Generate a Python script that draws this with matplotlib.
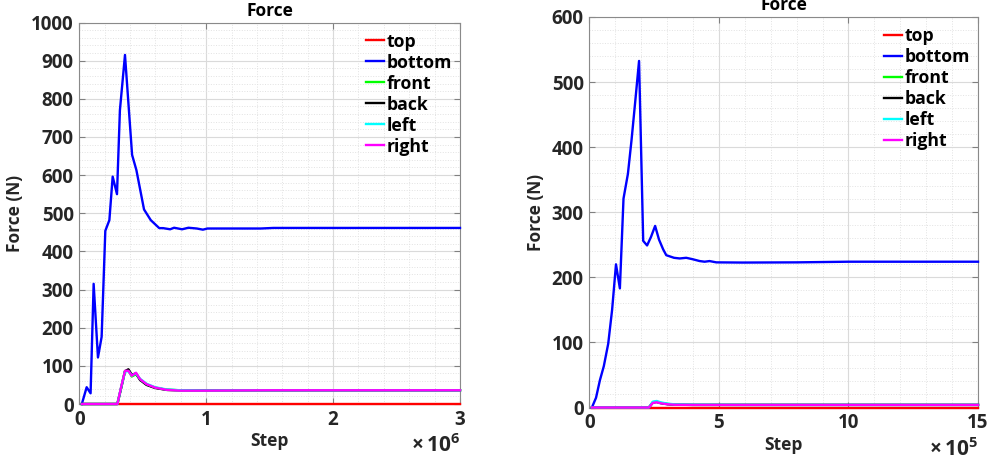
import matplotlib
matplotlib.use("Agg")
import matplotlib.pyplot as plt
from matplotlib.ticker import AutoMinorLocator, MultipleLocator, FuncFormatter

plt.rcParams['font.family'] = ['Open Sans', 'DejaVu Sans']
plt.rcParams['font.weight'] = 'bold'
plt.rcParams['mathtext.fontset'] = 'custom'
plt.rcParams['mathtext.rm'] = 'Open Sans'

# ---------------- data: run A (steps up to 3e6) ----------------
steps_a_bottom = [2.0e4, 5.8e4, 8.9e4, 1.13e5, 1.47e5, 1.76e5, 2.05e5, 2.37e5, 2.63e5,
                  2.97e5, 3.2e5, 3.6e5, 4.16e5, 4.5e5, 5.1e5, 5.63e5, 6.3e5, 6.6e5,
                  7.16e5, 7.47e5, 8.1e5, 8.6e5, 9.26e5, 9.74e5, 1.01e6, 1.16e6,
                  1.43e6, 1.53e6, 2.2e6, 3.0e6]
bottom_a = [0, 44, 28, 315, 122, 176, 454, 482, 596, 550, 770, 915, 653, 613, 510,
            482, 461, 461, 458, 462, 458, 462, 460, 457, 460, 460, 460, 461.5, 461.5, 461.5]

steps_a_side = [2.0e4, 3.0e5, 3.3e5, 3.6e5, 3.87e5, 4.13e5, 4.47e5, 4.79e5, 5.3e5,
                5.97e5, 6.9e5, 7.95e5, 1.0e6, 1.5e6, 2.0e6, 2.5e6, 3.0e6]
top_a = [0] * len(steps_a_side)
front_a = [0, 0, 43, 86, 88, 72, 78, 64, 51, 43, 37, 36, 35.5, 36, 36, 36, 36]
back_a = [0, 0, 42, 86, 91, 77, 80, 63, 50, 42, 37, 36, 35.5, 36, 36, 36, 36]
left_a = [0, 0, 44, 85, 86, 75, 80, 66, 53, 44, 38, 36, 35.5, 36, 36, 36, 36]
right_a = [0, 0, 45, 87, 87, 74, 82, 65, 52, 43, 37, 35, 35, 36, 36, 36, 36]

# ---------------- data: run B (steps up to 1.5e6) ----------------
steps_b_bottom = [1.0e4, 2.6e4, 4.1e4, 5.6e4, 7.3e4, 8.8e4, 1.03e5, 1.18e5, 1.32e5,
                  1.49e5, 1.63e5, 1.77e5, 1.92e5, 2.08e5, 2.23e5, 2.38e5, 2.54e5,
                  2.69e5, 2.85e5, 2.97e5, 3.27e5, 3.49e5, 3.74e5, 3.97e5, 4.26e5,
                  4.45e5, 4.64e5, 4.9e5, 5.92e5, 8.0e5, 1.0e6, 1.2e6, 1.5e6]
bottom_b = [0, 15, 42, 63.5, 98, 150, 220, 183, 321, 359, 411, 469, 532.5, 256, 249,
            262, 279, 258, 243, 234, 230, 229, 230, 228, 225, 224, 225, 223, 222.7,
            223, 224, 224, 224]

steps_b_side = [1.0e4, 2.3e5, 2.45e5, 2.6e5, 2.75e5, 3.0e5, 3.3e5, 4.0e5, 6.0e5,
                8.0e5, 1.0e6, 1.2e6, 1.5e6]
top_b = [0] * len(steps_b_side)
front_b = [0, 0, 8, 9, 7, 5.5, 4.5, 4, 4, 4, 4, 4, 4]
back_b = [0, 0, 7.5, 8.5, 6.8, 5.2, 4.3, 4, 4, 4, 4, 4, 4]
left_b = [0, 0, 9, 10, 8, 6, 4.8, 4.3, 4, 4, 4, 4, 4]
right_b = [0, 0, 7, 8, 6.5, 5, 4.2, 4, 4, 4, 4, 4, 4]

labels = ['top', 'bottom', 'front', 'back', 'left', 'right']
colors = ['#ff0000', '#0000ff', '#00ff00', '#000000', '#00ffff', '#ff00ff']

TXT = '#262626'
fig = plt.figure(figsize=(9.91, 4.62), dpi=100)


def draw(ax, steps_side, steps_bottom, top, bottom, front, back, left, right,
         xmax, xstep, ymax, exponent):
    series = [(steps_side, top), (steps_bottom, bottom), (steps_side, front),
              (steps_side, back), (steps_side, left), (steps_side, right)]
    for (xs, ys), lab, col in zip(series, labels, colors):
        ax.plot(xs, ys, color=col, lw=1.7, label=lab, clip_on=False, zorder=3)
    ax.set_xlim(0, xmax)
    ax.set_ylim(0, ymax)
    ax.xaxis.set_major_locator(MultipleLocator(xstep))
    ax.yaxis.set_major_locator(MultipleLocator(100))
    ax.xaxis.set_minor_locator(AutoMinorLocator(5))
    ax.yaxis.set_minor_locator(AutoMinorLocator(5))
    scale = 10 ** exponent
    ax.xaxis.set_major_formatter(FuncFormatter(lambda v, p: f'{v / scale:g}'))
    ax.grid(which='major', color='#dadada', lw=0.8, ls='-')
    ax.grid(which='minor', color='#e2e2e2', lw=0.7, ls=':')
    ax.set_axisbelow(True)
    ax.tick_params(which='major', direction='in', length=4, width=0.8, color='#808080',
                   top=True, right=True, labelsize=13.5, labelcolor=TXT, pad=4)
    ax.tick_params(which='minor', length=0, top=True, right=True)
    for lab in ax.get_xticklabels() + ax.get_yticklabels():
        lab.set_fontweight('bold')
    for sp in ax.spines.values():
        sp.set_color('#8a8a8a')
        sp.set_linewidth(0.8)
        sp.set_zorder(2.5)
    ax.set_title('Force', fontsize=12.5, fontweight='bold', color='black', pad=5)
    ax.set_xlabel('Step', fontsize=12.5, fontweight='bold', color=TXT, labelpad=2)
    ax.set_ylabel('Force (N)', fontsize=12.5, fontweight='bold', color=TXT, labelpad=5)
    ax.text(1.0, -48.5 / (ax.get_position().height * 462), r'$\times\,10^{%d}$' % exponent,
            transform=ax.transAxes, ha='right', va='baseline', fontsize=15, color=TXT)
    ax.legend(loc='upper right', frameon=False, handlelength=1.0,
              handletextpad=0.15, labelspacing=0.17, borderaxespad=0.0,
              bbox_to_anchor=(1.0 - 1 / (ax.get_position().width * 991),
                              1.0 - 3 / (ax.get_position().height * 462)),
              prop={'weight': 'bold', 'size': 12.7})


ax1 = fig.add_axes([79.3 / 991, (462 - 404) / 462, 380.7 / 991, 381.5 / 462])
draw(ax1, steps_a_side, steps_a_bottom, top_a, bottom_a, front_a, back_a, left_a,
     right_a, 3e6, 1e6, 1000, 6)

ax2 = fig.add_axes([589.3 / 991, (462 - 407.5) / 462, 388.7 / 991, 390.5 / 462])
draw(ax2, steps_b_side, steps_b_bottom, top_b, bottom_b, front_b, back_b, left_b,
     right_b, 1.5e6, 5e5, 600, 5)

fig.savefig('out.png', dpi=100)
